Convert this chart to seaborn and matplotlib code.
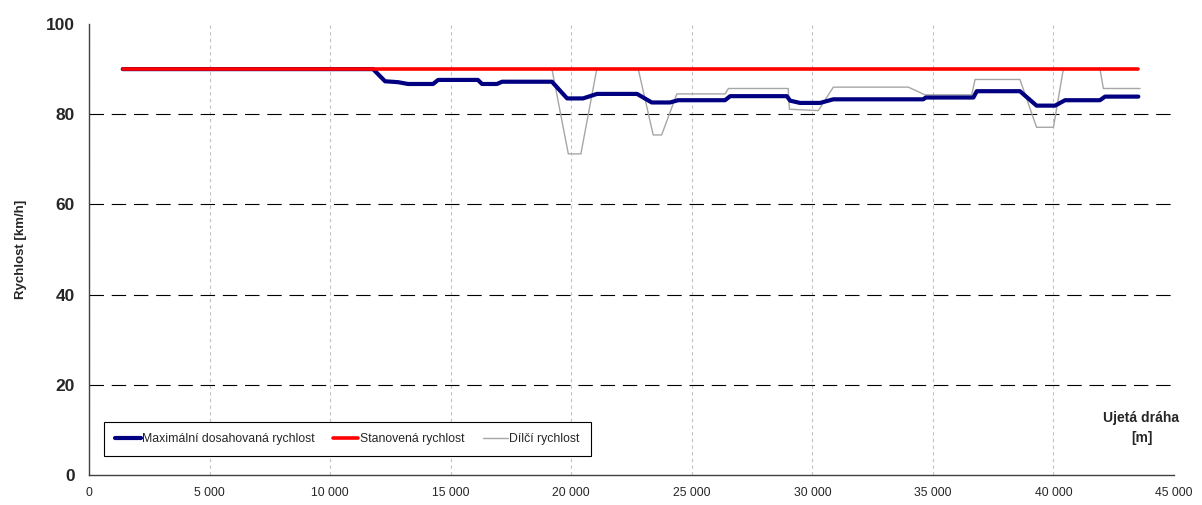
import pandas as pd
import matplotlib.pyplot as plt
import seaborn as sns
from matplotlib.ticker import FuncFormatter

# Ujetá dráha [m] a rychlosti [km/h]
max_x = [1400, 11780, 12280, 12820, 13230, 14270, 14480, 16130, 16300, 16920,
         17130, 19200, 19830, 20490, 21070, 22730, 23340, 24100, 24430, 26380,
         26590, 28940, 29080, 29490, 30320, 30870, 34600, 34700, 36680, 36820,
         38610, 39300, 40070, 40480, 41930, 42140, 43520]
max_v = [90, 90, 87.3, 87.1, 86.7, 86.7, 87.6, 87.6, 86.7, 86.7,
         87.2, 87.2, 83.5, 83.5, 84.5, 84.5, 82.6, 82.6, 83.1, 83.1,
         84.0, 84.0, 83.0, 82.5, 82.5, 83.3, 83.3, 83.7, 83.7, 85.1,
         85.1, 81.9, 81.9, 83.1, 83.1, 83.9, 83.9]

stan_x = [1400, 43520]
stan_v = [90, 90]

dil_x = [1400, 19200, 19880, 20400, 21060, 22780, 23400, 23750, 24380, 26380,
         26520, 29000, 29050, 30250, 30870, 33980, 34670, 36610, 36750, 38610,
         39300, 40000, 40410, 41930, 42070, 43590]
dil_v = [90, 90, 71.2, 71.2, 90, 90, 75.4, 75.4, 84.5, 84.5,
         85.7, 85.7, 81.1, 80.8, 86.0, 86.0, 84.3, 84.3, 87.7, 87.7,
         77.1, 77.1, 90, 90, 85.7, 85.7]

x_ticks = list(range(0, 45001, 5000))
y_ticks = [0, 20, 40, 60, 80, 100]

df_max = pd.DataFrame({'x': max_x, 'v': max_v})
df_stan = pd.DataFrame({'x': stan_x, 'v': stan_v})
df_dil = pd.DataFrame({'x': dil_x, 'v': dil_v})

sns.set_style("white")
plt.rcParams['font.family'] = ['Liberation Sans', 'DejaVu Sans']

fig = plt.figure(figsize=(12.02, 5.05), dpi=100)
ax = fig.add_axes([89 / 1202, 30 / 505, 1085 / 1202, 451 / 505])

sns.lineplot(data=df_dil, x='x', y='v', color='#a6a6a6', linewidth=1.0,
             sort=False, estimator=None, ax=ax, label='Dílčí rychlost', zorder=2)
sns.lineplot(data=df_max, x='x', y='v', color='#000080', linewidth=3.0,
             sort=False, estimator=None, ax=ax, label='Maximální dosahovaná rychlost', zorder=3)
sns.lineplot(data=df_stan, x='x', y='v', color='#ff0000', linewidth=2.6,
             sort=False, estimator=None, ax=ax, label='Stanovená rychlost', zorder=4)

ax.set_xlim(0, 45000)
ax.set_ylim(0, 100)
ax.set_xticks(x_ticks)
ax.set_yticks(y_ticks)
ax.xaxis.set_major_formatter(FuncFormatter(lambda v, p: f"{int(v):,}".replace(',', ' ')))

# mřížka
ax.yaxis.grid(True, color='black', linestyle=(0, (13, 7)), linewidth=0.8)
ax.xaxis.grid(True, color='#c0c0c0', linestyle=(0, (3, 3)), linewidth=0.8)
ax.get_ygridlines()[-1].set_visible(False)
ax.get_ygridlines()[0].set_visible(False)
ax.set_axisbelow(True)

for s in ['top', 'right']:
    ax.spines[s].set_visible(False)
for s in ['left', 'bottom']:
    ax.spines[s].set_color('#404040')
    ax.spines[s].set_linewidth(1.0)

ax.tick_params(axis='y', direction='out', length=6, width=0.8, color='#404040',
               labelsize=12.5, pad=4)
ax.tick_params(axis='x', direction='out', length=5, width=0.8, color='#404040',
               labelsize=8.7, pad=4)
for lbl in ax.get_yticklabels():
    lbl.set_fontweight('bold')

ax.set_xlabel('')
ax.set_ylabel('Rychlost [km/h]', fontsize=9.5, fontweight='bold')
ax.yaxis.set_label_coords(-0.057, 0.5)

ax.text(0.970, 0.104, 'Ujetá dráha\n[m]', transform=ax.transAxes, ha='center', va='center',
        fontsize=10, fontweight='bold', linespacing=1.5)

handles, labels = ax.get_legend_handles_labels()
order = [labels.index('Maximální dosahovaná rychlost'), labels.index('Stanovená rychlost'),
         labels.index('Dílčí rychlost')]
leg = ax.legend([handles[i] for i in order], [labels[i] for i in order], ncol=3,
                loc='lower left', bbox_to_anchor=(0.0138, 0.042), borderaxespad=0,
                fontsize=8.8, frameon=True, fancybox=False, framealpha=1,
                edgecolor='black', handlelength=2.1, handletextpad=0.1,
                columnspacing=1.5, borderpad=0.9)
leg.get_frame().set_linewidth(0.8)

plt.savefig('out.png', dpi=100)
plt.close()
